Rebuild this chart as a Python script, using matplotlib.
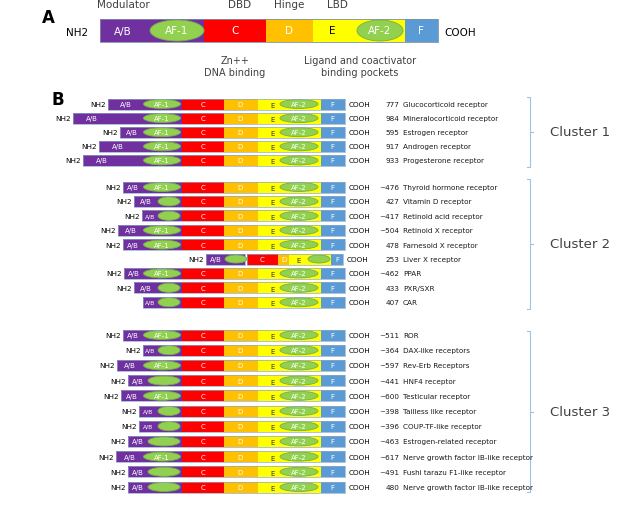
import matplotlib.pyplot as plt
from matplotlib.patches import Rectangle, Ellipse

# Receptor data, one entry per row (grouped by cluster)
cluster_names = ['Cluster 1', 'Cluster 2', 'Cluster 3']

c1_names = ['Glucocorticoid receptor', 'Mineralocorticoid receptor', 'Estrogen receptor',
            'Androgen receptor', 'Progesterone receptor']
c1_lengths = ['777', '984', '595', '917', '933']
c1_nterm = [108, 73, 120, 99, 83]          # left end of the A/B domain
c1_af1 = ['AF-1', 'AF-1', 'AF-1', 'AF-1', 'AF-1']

c2_names = ['Thyroid hormone receptor', 'Vitamin D receptor', 'Retinoid acid receptor',
            'Retinoid X receptor', 'Farnesoid X receptor', 'Liver X receptor',
            'PPAR', 'PXR/SXR', 'CAR']
c2_lengths = ['~476', '427', '~417', '~504', '478', '253', '~462', '433', '407']
c2_nterm = [123, 134, 142, 118, 123, 206, 124, 134, 143]
c2_af1 = ['AF-1', 'small', 'small', 'AF-1', 'AF-1', 'lxr', 'AF-1', 'small', 'small']

c3_names = ['ROR', 'DAX-like receptors', 'Rev-Erb Receptors', 'HNF4 receptor',
            'Testicular receptor', 'Tailless like receptor', 'COUP-TF-like receptor',
            'Estrogen-related receptor', 'Nerve growth factor IB-like receptor',
            'Fushi tarazu F1-like receptor', 'Nerve growth factor IB-like receptor']
c3_lengths = ['~511', '~364', '~597', '~441', '~600', '~398', '~396', '~463',
              '~617', '~491', '480']
c3_nterm = [123, 143, 117, 128, 121, 139, 139, 128, 116, 128, 128]
c3_af1 = ['AF-1', 'small', 'AF-1', 'big', 'AF-1', 'small', 'small', 'big',
          'AF-1', 'big', 'big']

# colours
PURPLE = '#7030a0'
RED = '#ff0000'
ORANGE = '#ffc000'
YELLOW = '#ffff00'
BLUE = '#5b9bd5'
GREEN = '#92d050'
GREEN_EDGE = '#7aae45'
OUTLINE = '#8ea9c8'
BRACKET = '#9dc3e6'

fig = plt.figure(figsize=(6.38, 5.10), dpi=100)
ax = fig.add_axes([0, 0, 1, 1])
ax.set_xlim(0, 638)
ax.set_ylim(510, 0)
ax.axis('off')


def seg(x0, x1, y, h, color):
    ax.add_patch(Rectangle((x0, y - h / 2), x1 - x0, h, facecolor=color,
                           edgecolor='none', zorder=2))


def ell(cx, y, w, h):
    ax.add_patch(Ellipse((cx, y), w, h, facecolor=GREEN, edgecolor=GREEN_EDGE,
                         lw=0.6, zorder=3))


def label(x, y, s, size, color='white', **kw):
    ax.text(x, y, s, fontsize=size, color=color, ha='center', va='center',
            zorder=4, **kw)


# ---------------- Panel A ----------------
ya, ha = 31.5, 23
bounds_a = [100, 204, 266, 313, 405, 438]
colors = [PURPLE, RED, ORANGE, YELLOW, BLUE]
for i, c in enumerate(colors):
    seg(bounds_a[i], bounds_a[i + 1], ya, ha, c)
ax.add_patch(Rectangle((100, ya - ha / 2), 338, ha, facecolor='none',
                       edgecolor='#7f8fa6', lw=0.6, zorder=5))
ell(177, ya, 54, 21)
ell(380, ya, 46, 21)
label(123, ya, 'A/B', 7.5)
label(177, ya, 'AF-1', 7.5)
label(235, ya, 'C', 7.5)
label(289, ya, 'D', 7.5)
label(332, ya, 'E', 7.5, color='black')
label(380, ya, 'AF-2', 7.5)
label(421, ya, 'F', 7.5)
label(77, ya + 1, 'NH2', 7.5, color='black')
label(460, ya + 1, 'COOH', 7.5, color='black')
label(48, 18, 'A', 12, color='black', fontweight='bold')
for x, s in [(123, 'Modulator'), (240, 'DBD'), (289, 'Hinge'), (337, 'LBD')]:
    label(x, 5, s, 7.5, color='#404040')
label(235, 61, 'Zn++', 7, color='#404040')
label(235, 73, 'DNA binding', 7, color='#404040')
label(360, 61, 'Ligand and coactivator', 7, color='#404040')
label(360, 73, 'binding pockets', 7, color='#404040')

# ---------------- Panel B ----------------
label(58, 100, 'B', 12, color='black', fontweight='bold')
c_start, d_start, e_start, f_start, c_end = 182, 224, 258, 321, 345
hb = 11
af1_shape = {'AF-1': (162, 37), 'big': (164, 32), 'small': (169, 22)}


def draw_row(y, nterm, kind, length, name, show_nh2=True):
    if kind == 'lxr':
        xs = [nterm, 245, 247, 278, 289, 331, 343]
        seg(xs[0], xs[1], y, hb, PURPLE)
        seg(xs[2], xs[3], y, hb, RED)
        seg(xs[3], xs[4], y, hb, ORANGE)
        seg(xs[4], xs[5], y, hb, YELLOW)
        seg(xs[5], xs[6], y, hb, BLUE)
        for a, b in [(xs[0], xs[1]), (xs[2], xs[6])]:
            ax.add_patch(Rectangle((a, y - hb / 2), b - a, hb, facecolor='none',
                                   edgecolor=OUTLINE, lw=0.5, zorder=5))
        ell(236, y, 22, 8)
        ell(319, y, 22, 8)
        label(216, y, 'A/B', 5)
        label(262, y, 'C', 5)
        label(284, y, 'D', 5)
        label(299, y + 1, 'E', 5, color='#333333')
        label(337, y, 'F', 5)
        right = 343
    else:
        xs = [nterm, c_start, d_start, e_start, f_start, c_end]
        for i, c in enumerate(colors):
            seg(xs[i], xs[i + 1], y, hb, c)
        ax.add_patch(Rectangle((nterm, y - hb / 2), c_end - nterm, hb,
                               facecolor='none', edgecolor=OUTLINE, lw=0.5, zorder=5))
        cx, w = af1_shape[kind]
        ell(cx, y, w, 9)
        if kind == 'AF-1':
            label(cx, y, 'AF-1', 5)
        ab_x = min(nterm + 19, (nterm + cx - w / 2) / 2)
        label(ab_x, y, 'A/B', 5 if nterm < 135 else 4.3)
        label(203, y, 'C', 5)
        label(240, y, 'D', 5)
        label(273, y + 1, 'E', 5, color='#333333')
        ell(299, y, 38, 9)
        label(299, y, 'AF-2', 5)
        label(332, y, 'F', 5)
        right = c_end
    if show_nh2:
        ax.text(nterm - 2, y, 'NH2', fontsize=5.2, ha='right', va='center')
    ax.text(right + 4, y, 'COOH', fontsize=5.2, ha='left', va='center')
    ax.text(399, y, length, fontsize=5.2, ha='right', va='center', color='#1a1a1a')
    ax.text(403, y, name, fontsize=5.2, ha='left', va='center', color='#1a1a1a')


def bracket(y0, y1, text):
    xb = 530
    ym = (y0 + y1) / 2
    ax.plot([xb - 3, xb, xb, xb - 3], [y0, y0, y1, y1], color=BRACKET, lw=0.8)
    ax.plot([xb, xb + 3], [ym, ym], color=BRACKET, lw=0.8)
    ax.text(550, ym, text, fontsize=9.5, ha='left', va='center', color='#404040')


clusters = [
    (c1_names, c1_lengths, c1_nterm, c1_af1, 105, 14.1, (98, 168)),
    (c2_names, c2_lengths, c2_nterm, c2_af1, 188, 14.4, (180, 310)),
    (c3_names, c3_lengths, c3_nterm, c3_af1, 336, 15.2, (332, 493)),
]
for k, (names, lengths, nterm, af1, y0, step, span) in enumerate(clusters):
    for i in range(len(names)):
        show = not (names[i] == 'CAR')
        draw_row(y0 + i * step, nterm[i], af1[i], lengths[i], names[i], show)
    bracket(span[0], span[1], cluster_names[k])

fig.savefig('out.png', dpi=100)
